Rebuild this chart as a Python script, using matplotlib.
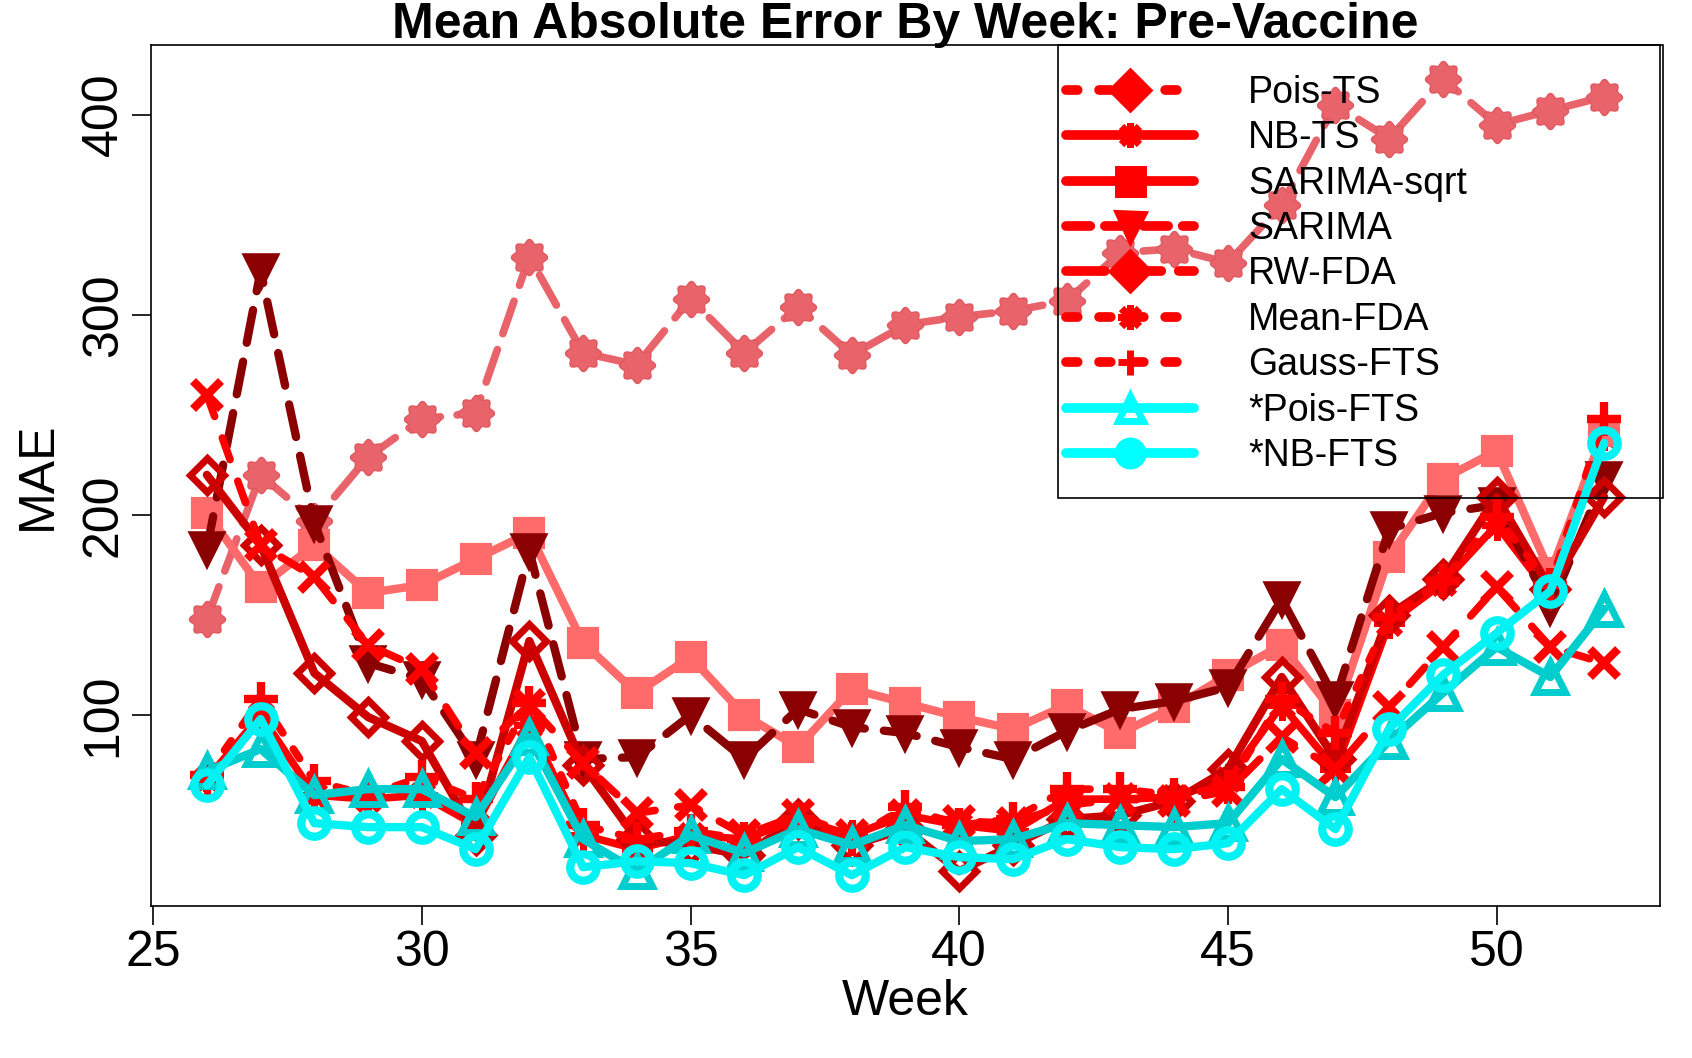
"""Mean absolute error by week, pre-vaccine period, for nine forecasting methods."""

import matplotlib
matplotlib.use("Agg")
import matplotlib.pyplot as plt
import numpy as np
from matplotlib.lines import Line2D
from matplotlib.patches import Rectangle
from matplotlib.path import Path

plt.rcParams["font.family"] = ["Liberation Sans", "DejaVu Sans"]

weeks = list(range(26, 53))

pois_ts = [148, 220, 197, 229, 248, 251, 329, 281, 275, 308, 281, 304, 280, 295,
           299, 302, 307, 331, 333, 326, 355, 405, 388, 418, 395, 402, 409]
nb_ts = [68, 100, 60, 58, 60, 45, 95, 40, 33, 40, 38, 48, 40, 50,
         45, 42, 58, 58, 59, 68, 105, 73, 146, 166, 195, 160, 240]
sarima_sqrt = [201, 164, 185, 161, 165, 178, 191, 136, 111, 129, 100, 84, 113, 106,
               99, 93, 105, 91, 104, 120, 135, 100, 179, 218, 232, 171, 242]
sarima = [183, 322, 196, 126, 118, 78, 182, 78, 79, 100, 78, 103, 94, 91,
          84, 78, 92, 103, 107, 114, 158, 108, 193, 201, 205, 154, 218]
rw_fda = [220, 185, 121, 99, 87, 40, 137, 75, 38, 35, 30, 48, 35, 43,
          22, 35, 48, 50, 57, 73, 119, 78, 150, 168, 209, 163, 209]
mean_fda = [260, 185, 169, 135, 123, 81, 105, 76, 51, 55, 40, 50, 40, 50,
            47, 46, 55, 58, 57, 62, 89, 73, 104, 134, 164, 134, 126]
gauss_fts = [70, 108, 67, 60, 69, 58, 106, 45, 38, 42, 38, 48, 38, 54,
             45, 48, 63, 63, 60, 64, 108, 91, 149, 167, 199, 165, 248]
pois_fts = [72, 83, 60, 63, 63, 49, 89, 38, 22, 40, 31, 43, 35, 45,
            37, 38, 46, 45, 44, 46, 78, 59, 87, 111, 134, 119, 153]
nb_fts = [65, 98, 46, 44, 44, 33, 79, 24, 27, 26, 20, 34, 20, 34,
          29, 28, 38, 34, 33, 36, 63, 43, 93, 120, 141, 162, 236]

labels = ["Pois-TS", "NB-TS", "SARIMA-sqrt", "SARIMA", "RW-FDA",
          "Mean-FDA", "Gauss-FTS", "*Pois-FTS", "*NB-FTS"]

# bumpy round marker for the Pois-TS points
theta = np.linspace(0, 2 * np.pi, 97)
rad = 1 + 0.12 * np.cos(8 * theta)
flower = Path(np.column_stack([rad * np.cos(theta), rad * np.sin(theta)]))

W, H = 1692, 1058
fig = plt.figure(figsize=(W / 100, H / 100), dpi=100)
ax = fig.add_axes([151 / W, 1 - 906 / H, (1660 - 151) / W, (906 - 45) / H])

round_caps = dict(dash_capstyle="round", solid_capstyle="round",
                  dash_joinstyle="round", solid_joinstyle="round")

ax.plot(weeks, pois_ts, color="#E8646A", lw=5.5, ls=(0, (4.5, 2.2)),
        marker=flower, ms=26, mec="#E0585F", mew=1, **round_caps)
ax.plot(weeks, nb_ts, color="#FF0000", lw=5.5, marker=(8, 2, 0), ms=22,
        mew=5, **round_caps)
ax.plot(weeks, sarima_sqrt, color="#FF6A6A", lw=6, marker="s", ms=20,
        mew=3, **round_caps)
ax.plot(weeks, sarima, color="#8B0000", lw=6, ls=(0, (4, 2.3)), marker="v",
        ms=22, mew=4, **round_caps)
ax.plot(weeks, rw_fda, color="#CD0000", lw=6, marker="D", ms=17, mew=5,
        mfc="none", **round_caps)
ax.plot(weeks, mean_fda, color="#FF0000", lw=5.5, ls=(0, (3, 3)), marker="x",
        ms=20, mew=6, **round_caps)
ax.plot(weeks, gauss_fts, color="#FF0000", lw=5.5, ls=(0, (1.5, 2.5)),
        marker="+", ms=24, mew=6, **round_caps)
ax.plot(weeks, pois_fts, color="#00CDCD", lw=6, marker="^", ms=21, mew=5,
        mfc="none", **round_caps)
ax.plot(weeks, nb_fts, color="#00F2F2", lw=6, marker="o", ms=19, mew=6,
        mfc="none", **round_caps)

ax.set_xlim(24.96, 53.04)
ax.set_ylim(4.6, 434.8)
ax.set_xticks([25, 30, 35, 40, 45, 50])
ax.set_yticks([100, 200, 300, 400])
ax.tick_params(axis="both", labelsize=36, length=14, width=1.2, direction="out")
for lab in ax.get_yticklabels():
    lab.set_rotation(90)
    lab.set_va("center")
for sp in ax.spines.values():
    sp.set_linewidth(1.2)
ax.set_xlabel("Week", fontsize=36, labelpad=2)
ax.set_ylabel("MAE", fontsize=36, labelpad=14)

fig.text(905 / W, 1 - 25 / H, "Mean Absolute Error By Week: Pre-Vaccine",
         ha="center", va="center", fontsize=36, fontweight="bold")

# legend: all red except the two starred cyan methods
leg_styles = [
    ("#FF0000", (0, (1.2, 2.2)), "D"),
    ("#FF0000", "-", (8, 2, 0)),
    ("#FF0000", "-", "s"),
    ("#FF0000", (0, (2.5, 1.5)), "v"),
    ("#FF0000", (0, (4, 1.8)), "D"),
    ("#FF0000", (0, (1.2, 2.2)), (8, 2, 0)),
    ("#FF0000", (0, (1.2, 2.2)), "+"),
    ("#00FFFF", "-", "^"),
    ("#00FFFF", "-", "o"),
]
handles = []
for (col, ls, mk), lab in zip(leg_styles, labels):
    filled = mk not in ("^",)
    handles.append(Line2D([], [], color=col, ls=ls, lw=7, marker=mk, ms=18,
                          mew=5, mfc=col if filled else "none",
                          dash_capstyle="round", solid_capstyle="round",
                          label=lab))
ax.legend(handles=handles, loc="upper left",
          bbox_to_anchor=(1066 / W, 1 - 75 / H), bbox_transform=fig.transFigure,
          frameon=False, borderpad=0, borderaxespad=0, fontsize=27,
          handlelength=3.4, handletextpad=1.45, labelspacing=0.25)
fig.patches.append(Rectangle((1058 / W, 1 - 498 / H), (1663 - 1058) / W,
                             (498 - 45) / H, transform=fig.transFigure,
                             fill=False, lw=1.2, ec="black"))

fig.savefig("out.png", dpi=100)
